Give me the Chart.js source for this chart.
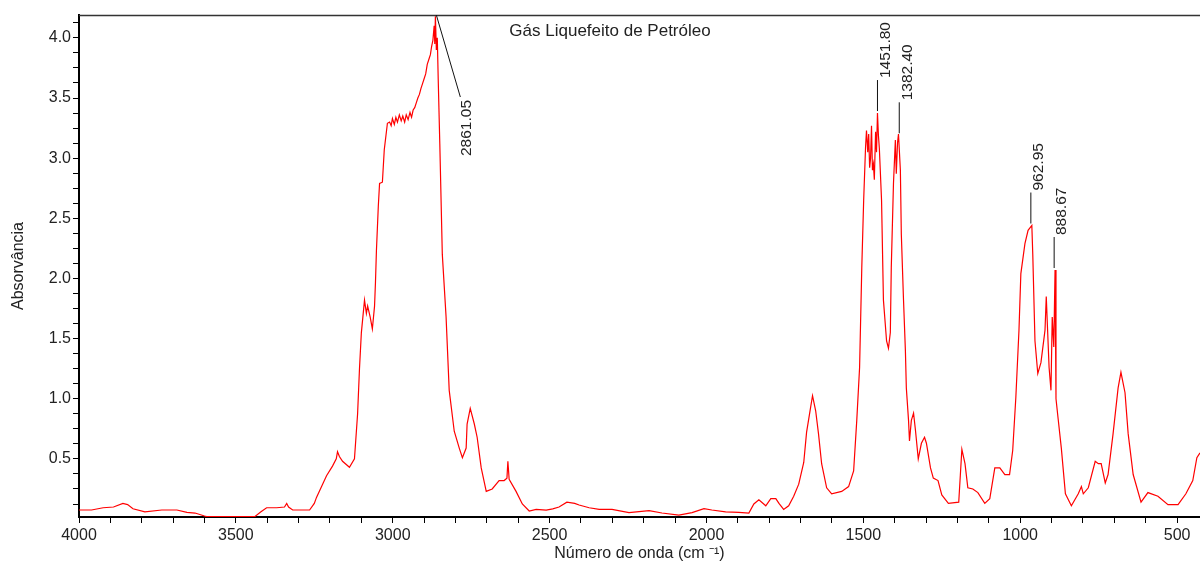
<!DOCTYPE html>
<html>
<head>
<meta charset="utf-8">
<script src="https://cdn.jsdelivr.net/npm/chart.js@4/dist/chart.umd.min.js"></script>
<style>
  body { margin: 0; background: #fff; }
</style>
</head>
<body>
<canvas id="espectro" width="1200" height="567"></canvas>
<script>
var numeroOnda = [
  4000, 3960, 3923, 3890, 3860, 3845, 3828, 3790, 3736, 3688, 3656, 3630, 3600, 3593,
  3440, 3420, 3402, 3370, 3345, 3338, 3332, 3319, 3265, 3250, 3243, 3225, 3211, 3192,
  3180, 3176, 3170, 3160, 3138, 3122, 3112, 3106, 3100, 3090, 3084, 3080, 3072, 3065,
  3058, 3055, 3052, 3046, 3042, 3033, 3027, 3017, 3010, 3005, 3001, 2995, 2990, 2985,
  2979, 2973, 2968, 2962, 2957, 2951, 2945, 2940, 2935, 2930, 2925, 2920, 2915, 2910,
  2905, 2900, 2895, 2890, 2885, 2880, 2876, 2872, 2868, 2866, 2864, 2861, 2858, 2855,
  2850, 2842, 2830, 2820, 2804, 2788, 2778, 2766, 2763, 2753, 2740, 2731, 2718, 2702,
  2683, 2661, 2645, 2636, 2633, 2629, 2607, 2587, 2565, 2543, 2511, 2490, 2470, 2445,
  2420, 2406, 2374, 2342, 2301, 2247, 2183, 2142, 2088, 2046, 2008, 1983, 1939, 1897,
  1865, 1849, 1833, 1811, 1795, 1779, 1769, 1754, 1738, 1722, 1706, 1690, 1681, 1668,
  1662, 1652, 1643, 1633, 1617, 1601, 1569, 1547, 1531, 1521, 1512, 1505, 1499, 1493,
  1490, 1486, 1483, 1480, 1477, 1474, 1471, 1468, 1465, 1461, 1458, 1455, 1452, 1449,
  1442, 1436, 1426, 1420, 1414, 1411, 1404, 1398, 1395, 1391, 1388, 1382, 1379, 1372,
  1366, 1363, 1356, 1353, 1347, 1340, 1334, 1325, 1315, 1305, 1299, 1286, 1277, 1262,
  1250, 1229, 1196, 1186, 1176, 1167, 1151, 1135, 1113, 1097, 1081, 1065, 1049, 1034,
  1024, 1014, 1004, 998, 985, 975, 969, 963, 960, 953, 944, 934, 921, 917,
  914, 908, 902, 898, 893, 889, 886, 879, 869, 856, 837, 815, 805, 799,
  783, 761, 751, 742, 729, 720, 704, 688, 679, 666, 656, 640, 615, 593,
  561, 529, 497, 472, 450, 437, 427
];
var absorvancia = [
  0.075, 0.075, 0.094, 0.10, 0.13, 0.12, 0.085, 0.06, 0.075, 0.075, 0.055, 0.05, 0.025, 0.02,
  0.02, 0.06, 0.094, 0.094, 0.10, 0.13, 0.10, 0.075, 0.075, 0.13, 0.18, 0.28, 0.36, 0.44,
  0.50, 0.56, 0.52, 0.48, 0.43, 0.50, 0.875, 1.25, 1.55, 1.82, 1.71, 1.77, 1.68, 1.58,
  1.77, 1.97, 2.23, 2.60, 2.79, 2.80, 3.07, 3.29, 3.30, 3.27, 3.33, 3.28, 3.34, 3.30,
  3.36, 3.31, 3.35, 3.30, 3.36, 3.32, 3.38, 3.34, 3.40, 3.42, 3.46, 3.50, 3.53, 3.58,
  3.62, 3.66, 3.70, 3.78, 3.82, 3.86, 3.93, 3.98, 4.10, 3.95, 4.18, 3.90, 4.00, 3.65,
  3.12, 2.20, 1.68, 1.07, 0.73, 0.59, 0.51, 0.59, 0.79, 0.92, 0.79, 0.68, 0.425, 0.23,
  0.25, 0.32, 0.32, 0.34, 0.48, 0.33, 0.23, 0.125, 0.067, 0.08, 0.075, 0.085, 0.10, 0.14,
  0.13, 0.117, 0.094, 0.08, 0.08, 0.053, 0.07, 0.05, 0.033, 0.053, 0.086, 0.075, 0.06, 0.055,
  0.05, 0.125, 0.16, 0.11, 0.17, 0.17, 0.13, 0.08, 0.11, 0.19, 0.29, 0.47, 0.72, 0.93,
  1.025, 0.90, 0.71, 0.46, 0.26, 0.21, 0.23, 0.27, 0.40, 0.82, 1.26, 2.09, 2.65, 3.09,
  3.23, 3.05, 3.20, 2.92, 3.00, 3.27, 2.90, 2.95, 2.82, 3.22, 3.05, 3.375, 3.19, 3.08,
  2.65, 1.82, 1.48, 1.42, 1.55, 2.09, 2.79, 3.15, 2.87, 3.13, 3.20, 2.90, 2.37, 1.82,
  1.40, 1.09, 0.82, 0.65, 0.82, 0.88, 0.74, 0.50, 0.63, 0.68, 0.63, 0.425, 0.34, 0.32,
  0.20, 0.13, 0.14, 0.58, 0.46, 0.26, 0.25, 0.22, 0.13, 0.17, 0.425, 0.425, 0.37, 0.37,
  0.57, 1.01, 1.57, 2.04, 2.29, 2.40, 2.42, 2.44, 2.20, 1.48, 1.21, 1.30, 1.57, 1.85,
  1.65, 1.26, 1.07, 1.68, 1.43, 2.07, 1.00, 0.83, 0.59, 0.21, 0.11, 0.21, 0.27, 0.21,
  0.26, 0.48, 0.46, 0.46, 0.30, 0.37, 0.71, 1.09, 1.22, 1.05, 0.71, 0.37, 0.14, 0.22,
  0.19, 0.12, 0.12, 0.21, 0.32, 0.51, 0.55
];

// picos marcados
var picosOnda = [2861.05, 1451.80, 1382.40, 962.95, 888.67];
var picosAbs = [4.19, 3.375, 3.19, 2.44, 2.07];
var picosTexto = ['2861.05', '1451.80', '1382.40', '962.95', '888.67'];

var tituloGrafico = 'Gás Liquefeito de Petróleo';

var fonte = '"Liberation Sans", Arial, sans-serif';

var pontos = numeroOnda.map(function (x, i) { return { x: x, y: absorvancia[i] }; });

var marcacoes = {
  id: 'marcacoes',
  afterDraw: function (chart) {
    var ctx = chart.ctx;
    var area = chart.chartArea;
    var sx = chart.scales.x;
    var sy = chart.scales.y;
    ctx.save();

    // linha de cima
    ctx.strokeStyle = '#333';
    ctx.lineWidth = 1.5;
    ctx.beginPath();
    ctx.moveTo(area.left, area.top + 0.5);
    ctx.lineTo(area.right, area.top + 0.5);
    ctx.stroke();

    // titulo dentro do grafico
    ctx.fillStyle = '#222';
    ctx.font = '17px ' + fonte;
    ctx.textAlign = 'center';
    ctx.textBaseline = 'middle';
    ctx.fillText(tituloGrafico, area.left + 531, area.top + 16);

    // picos
    ctx.strokeStyle = '#111';
    ctx.lineWidth = 1;
    ctx.font = '15.5px ' + fonte;
    picosOnda.forEach(function (onda, i) {
      var px = sx.getPixelForValue(onda);
      var py = sy.getPixelForValue(picosAbs[i]);
      ctx.beginPath();
      ctx.save();
      if (py - area.top < 20) {
        ctx.moveTo(px, area.top);
        ctx.lineTo(px + 24, area.top + 82);
        ctx.stroke();
        ctx.translate(px + 30, area.top + 85);
        ctx.rotate(-Math.PI / 2);
        ctx.textAlign = 'right';
      } else {
        ctx.moveTo(px - 1, py - 2);
        ctx.lineTo(px - 1, py - 33);
        ctx.stroke();
        ctx.translate(px + 7, py - 35);
        ctx.rotate(-Math.PI / 2);
        ctx.textAlign = 'left';
      }
      ctx.textBaseline = 'middle';
      ctx.fillText(picosTexto[i], 0, 0);
      ctx.restore();
    });
    ctx.restore();
  }
};

var ctx = document.getElementById('espectro');
var grafico = new Chart(ctx, {
  type: 'line',
  data: {
    datasets: [{
      label: tituloGrafico,
      data: pontos,
      borderColor: '#ff0000',
      borderWidth: 1.2,
      pointRadius: 0,
      tension: 0,
      fill: false
    }]
  },
  options: {
    responsive: false,
    animation: false,
    devicePixelRatio: 1,
    layout: { padding: { top: 15, right: 0, left: 0, bottom: 0 } },
    plugins: {
      legend: { display: false },
      tooltip: { enabled: false }
    },
    scales: {
      x: {
        type: 'linear',
        reverse: true,
        min: 427,
        max: 4000,
        afterBuildTicks: function (scale) {
          var t = [];
          for (var v = 500; v <= 4000; v += 100) t.push({ value: v });
          scale.ticks = t;
        },
        afterFit: function (scale) { scale.height = 50; },
        grid: { drawOnChartArea: false, tickLength: 6, color: '#000', lineWidth: 1 },
        border: { color: '#000', width: 2 },
        ticks: {
          autoSkip: false,
          maxRotation: 0,
          padding: 3,
          color: '#222',
          font: { family: fonte, size: 16 },
          callback: function (v) { return v % 500 === 0 ? String(v) : ''; }
        },
        title: {
          display: true,
          text: 'Número de onda (cm ⁻¹)',
          color: '#222',
          font: { family: fonte, size: 16 },
          padding: { top: 4, bottom: 4 }
        }
      },
      y: {
        type: 'linear',
        min: 0.017,
        max: 4.19,
        afterBuildTicks: function (scale) {
          var t = [];
          for (var k = 1; k <= 33; k++) t.push({ value: k * 0.125 });
          scale.ticks = t;
        },
        afterFit: function (scale) { scale.width = 79; },
        grid: { drawOnChartArea: false, tickLength: 6, color: '#000', lineWidth: 1 },
        border: { color: '#000', width: 2 },
        ticks: {
          autoSkip: false,
          padding: 2,
          color: '#222',
          font: { family: fonte, size: 16 },
          callback: function (v) {
            return Math.abs(v * 2 - Math.round(v * 2)) < 1e-6 ? v.toFixed(1) : '';
          }
        },
        title: {
          display: true,
          text: 'Absorvância',
          color: '#222',
          font: { family: fonte, size: 16 },
          padding: { top: 9, bottom: 4 }
        }
      }
    }
  },
  plugins: [marcacoes]
});
</script>
</body>
</html>
